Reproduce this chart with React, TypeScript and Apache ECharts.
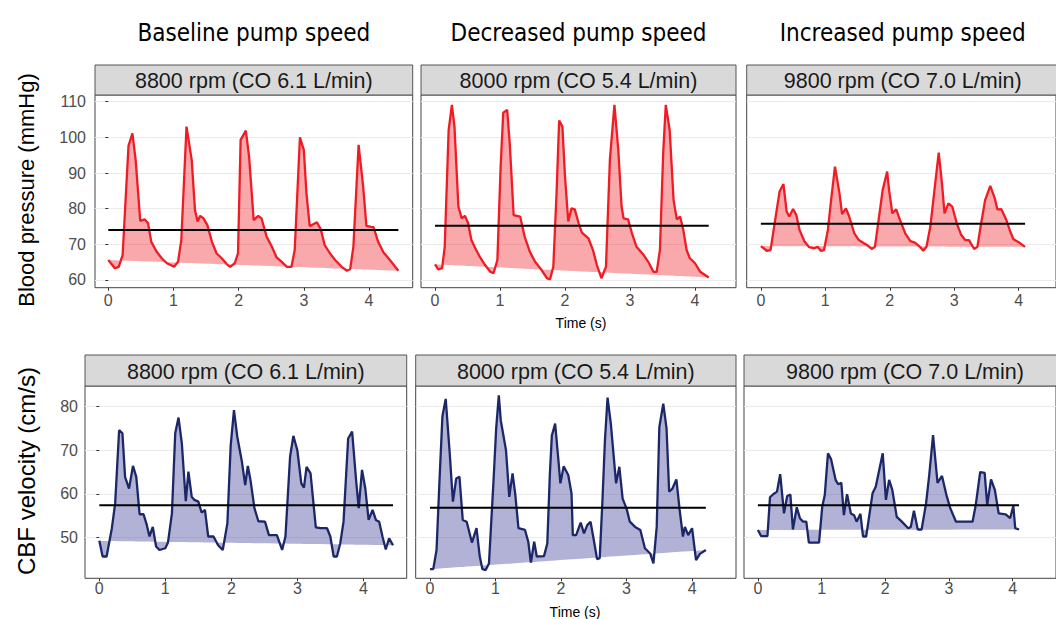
import React, { useEffect, useRef } from "react";
import * as echarts from "echarts";

// ---------- data ----------
const columnTitles = ["Baseline pump speed", "Decreased pump speed", "Increased pump speed"];
const stripLabels = ["8800 rpm (CO 6.1 L/min)", "8000 rpm (CO 5.4 L/min)", "9800 rpm (CO 7.0 L/min)"];
const rowTitles = ["Blood pressure (mmHg)", "CBF velocity (cm/s)"];
const xTicks = [0, 1, 2, 3, 4];
const bpTicks = [60, 70, 80, 90, 100, 110];
const cbfTicks = [50, 60, 70, 80];
const bpMeans = [74.0, 75.2, 75.8];
const cbfMeans = [57.35, 56.8, 57.35];

const bpBaseline: number[][] = [[0,65.6],[0.10,63.3],[0.16,63.7],[0.22,67],[0.31,97.6],[0.37,101.1],[0.42,93.6],[0.49,76.6],[0.56,77.0],[0.61,75.9],[0.66,70.7],[0.74,68],[0.82,66.1],[0.90,64.7],[1.01,63.7],[1.07,65.1],[1.12,71.2],[1.20,103],[1.28,93.6],[1.33,79.6],[1.37,76.4],[1.41,78],[1.46,77.3],[1.52,75.4],[1.59,70.7],[1.66,67.5],[1.74,66.1],[1.82,64.4],[1.87,63.7],[1.94,64.7],[1.99,67.5],[2.03,99.3],[2.11,101.9],[2.16,94.6],[2.23,76.8],[2.30,78],[2.35,77.3],[2.43,72.1],[2.51,69.3],[2.58,66.4],[2.66,65.1],[2.74,63.7],[2.81,63.7],[2.86,68.4],[2.94,100],[3.00,96.4],[3.04,84.3],[3.09,75.1],[3.20,76.2],[3.26,74.2],[3.32,69.8],[3.40,67.5],[3.48,65.6],[3.58,63.7],[3.66,62.6],[3.71,63],[3.76,69.3],[3.84,97.9],[3.91,86.2],[3.96,75.2],[4.03,74.9],[4.07,74.8],[4.14,70.7],[4.22,67.8],[4.32,65.6],[4.45,62.6]];

const bpDecreased: number[][] = [[0,64.4],[0.05,63],[0.11,63.3],[0.15,69.3],[0.21,102],[0.26,109.1],[0.30,103],[0.36,80.6],[0.41,77.3],[0.46,78],[0.51,75.9],[0.56,71.2],[0.62,68.9],[0.69,66.5],[0.77,64.2],[0.85,62.3],[0.90,61.9],[0.96,65.6],[1.01,91.8],[1.05,106.9],[1.11,107.7],[1.15,98.3],[1.21,78.2],[1.31,77.8],[1.38,72.1],[1.46,67.9],[1.54,65.1],[1.64,62.8],[1.72,60.5],[1.77,60.2],[1.82,63.7],[1.87,84.3],[1.91,104.7],[1.96,103],[2.00,89],[2.05,76.4],[2.10,80.1],[2.15,79.8],[2.21,75.9],[2.26,73.3],[2.36,71.7],[2.43,68.4],[2.49,64.2],[2.56,60.5],[2.63,63.7],[2.69,93.6],[2.76,109.1],[2.82,96.4],[2.87,80.6],[2.90,77.3],[2.97,77],[3.03,73.1],[3.10,69.3],[3.21,67],[3.28,65.1],[3.36,62.3],[3.41,62.3],[3.46,68.4],[3.51,95.5],[3.55,109.1],[3.61,102],[3.67,82.4],[3.72,77],[3.77,77.8],[3.82,74],[3.87,68.4],[3.92,66.1],[4.00,64.7],[4.08,62.3],[4.21,60.7]];

const bpIncreased: number[][] = [[0,69.5],[0.09,68.2],[0.15,68.4],[0.19,73.1],[0.29,84.8],[0.35,86.9],[0.40,79.2],[0.44,77.8],[0.50,79.9],[0.55,78.2],[0.60,74],[0.68,70.7],[0.75,69.2],[0.83,68.9],[0.88,69.3],[0.93,68.2],[0.98,68.4],[1.04,74],[1.09,82.4],[1.15,91.8],[1.22,84.3],[1.26,78.5],[1.32,80.1],[1.37,77.8],[1.45,73.1],[1.52,71.2],[1.60,70.3],[1.65,69.8],[1.72,68.7],[1.77,69.3],[1.82,75.9],[1.89,85.2],[1.96,90.4],[1.99,85.2],[2.04,78.7],[2.10,79.8],[2.16,76.8],[2.24,73.1],[2.32,70.9],[2.39,70.5],[2.47,69.3],[2.52,68.2],[2.57,69.3],[2.63,75],[2.70,86.2],[2.76,95.7],[2.81,87.1],[2.85,78.7],[2.91,81.5],[2.97,80.6],[3.04,75.9],[3.11,72.6],[3.17,71.2],[3.23,71.2],[3.31,68.7],[3.36,69.3],[3.41,75],[3.48,82.4],[3.56,86.4],[3.63,82.9],[3.67,79.8],[3.73,79.9],[3.81,76.8],[3.87,73.6],[3.92,71.4],[4.01,70.5],[4.10,69.3]];

const cbfBaseline: number[][] = [[0,49.2],[0.05,45.6],[0.11,45.6],[0.19,52.1],[0.24,57.8],[0.30,74.6],[0.35,73.9],[0.39,63.9],[0.45,61.2],[0.51,66.4],[0.56,63.9],[0.61,55.3],[0.67,55.3],[0.72,52.8],[0.76,50.2],[0.81,52.4],[0.86,47.9],[0.91,47.1],[1.00,47.5],[1.04,48.8],[1.10,55.5],[1.15,73.9],[1.20,77.5],[1.25,71.6],[1.31,58.3],[1.35,65.1],[1.40,59.3],[1.44,58.6],[1.50,58.2],[1.55,55.7],[1.60,56.3],[1.65,50.2],[1.73,50.2],[1.80,48.2],[1.87,47.1],[1.94,53.2],[1.99,71],[2.04,79.2],[2.09,73.1],[2.16,67.4],[2.21,62],[2.25,66.4],[2.29,63.2],[2.35,56.7],[2.41,53.7],[2.51,53.6],[2.57,50.5],[2.69,50.5],[2.77,47.1],[2.82,50.2],[2.89,68.5],[2.94,73.3],[3.00,70],[3.06,62.4],[3.10,61.4],[3.14,66.2],[3.20,64.7],[3.28,52.3],[3.35,52.1],[3.45,52.1],[3.50,50.2],[3.55,45.6],[3.60,45.6],[3.65,48.6],[3.70,53.6],[3.77,72.7],[3.83,74.3],[3.89,63.2],[3.93,56.7],[3.98,65.5],[4.03,61.2],[4.08,54],[4.14,56.3],[4.19,54],[4.24,53.6],[4.29,50.2],[4.34,47.2],[4.39,49.8],[4.45,48.2]];

const cbfDecreased: number[][] = [[0,42.7],[0.05,42.7],[0.10,47.1],[0.15,64.7],[0.19,77.8],[0.24,81.8],[0.30,69.6],[0.35,58.2],[0.40,63.5],[0.45,63.9],[0.50,54],[0.56,53.6],[0.64,48.8],[0.71,52.1],[0.76,45.6],[0.80,42.7],[0.85,42.5],[0.90,44],[0.97,63.1],[1.01,75],[1.05,82.6],[1.08,76.9],[1.16,70],[1.21,59.3],[1.26,64.7],[1.30,60.1],[1.35,52.1],[1.45,51.7],[1.50,49],[1.54,44.2],[1.59,49],[1.63,45.6],[1.74,45.7],[1.79,48.6],[1.83,64.7],[1.86,73.4],[1.91,76.1],[1.96,67.7],[1.99,62.4],[2.04,66.3],[2.11,64.3],[2.16,60.1],[2.18,50.5],[2.23,50.5],[2.30,53.4],[2.35,50.9],[2.40,52.8],[2.45,53.6],[2.50,49.4],[2.55,45],[2.59,45.2],[2.63,57.8],[2.67,72.3],[2.71,82.1],[2.76,76.1],[2.84,62.4],[2.89,66.2],[2.94,58.9],[3.00,56.6],[3.05,53.6],[3.13,52.4],[3.21,51.7],[3.28,47.5],[3.36,46.3],[3.41,44],[3.46,52.4],[3.50,75.3],[3.56,80.7],[3.61,75],[3.65,60.5],[3.70,61.2],[3.76,63.3],[3.81,56.3],[3.86,50.2],[3.89,52.4],[3.94,50.5],[4.00,52.1],[4.06,44.8],[4.12,46.2],[4.21,47.1]];

const cbfIncreased: number[][] = [[0,51.7],[0.05,50.3],[0.15,50.3],[0.19,59.2],[0.24,59.9],[0.30,60.5],[0.35,64.5],[0.41,55.5],[0.46,59.5],[0.51,59.8],[0.55,51.8],[0.61,56.9],[0.66,54.4],[0.71,53.6],[0.76,53.6],[0.80,48.8],[0.88,48.8],[0.96,48.8],[1.01,57],[1.05,59.7],[1.10,69.3],[1.15,67.9],[1.22,63.2],[1.26,62.2],[1.31,62.5],[1.35,55.1],[1.40,59.9],[1.46,55.5],[1.51,55.1],[1.55,53.6],[1.61,55.4],[1.65,50.2],[1.70,50.2],[1.80,60.1],[1.85,61.6],[1.96,69.3],[2.01,58.6],[2.06,63.2],[2.11,60.9],[2.18,54.7],[2.26,53.6],[2.36,52.1],[2.40,52.4],[2.45,56.1],[2.51,51.8],[2.57,51.8],[2.64,57.8],[2.69,64.3],[2.75,73.5],[2.82,62.5],[2.89,64.1],[2.96,59.7],[3.02,56.7],[3.11,53.6],[3.25,53.6],[3.37,53.6],[3.42,57.4],[3.49,65],[3.56,64.8],[3.60,57.4],[3.66,63.3],[3.72,60.9],[3.78,55.5],[3.89,55.3],[3.96,54.4],[4.01,57.2],[4.04,52.1],[4.10,51.8]];

// ---------- layout ----------
const SANS = "'Liberation Sans', Arial, Helvetica, sans-serif";
const TITLE_FONT = "'DejaVu Sans Condensed', 'DejaVu Sans', Tahoma, sans-serif";

type Panel = { left: number; top: number; width: number; height: number; xmin: number; xmax: number; ymin: number; ymax: number };
const panels: Panel[] = [
  { left: 95, top: 95, width: 317.7, height: 192.7, xmin: -0.204, xmax: 4.67, ymin: 57.84, ymax: 111.88 },
  { left: 421, top: 95, width: 315, height: 192.7, xmin: -0.215, xmax: 4.63, ymin: 57.84, ymax: 111.88 },
  { left: 746.7, top: 95, width: 312, height: 192.7, xmin: -0.22, xmax: 4.58, ymin: 57.84, ymax: 111.88 },
  { left: 85, top: 386, width: 321.7, height: 192.3, xmin: -0.217, xmax: 4.657, ymin: 40.6, ymax: 84.75 },
  { left: 415.7, top: 386, width: 320.3, height: 192.3, xmin: -0.218, xmax: 4.67, ymin: 40.6, ymax: 84.75 },
  { left: 744, top: 386, width: 322, height: 192.3, xmin: -0.218, xmax: 4.68, ymin: 40.6, ymax: 84.75 },
];
const stripTops = [65, 65, 65, 355, 355, 355];

function panelSeries(idx: number, pts: number[][], mean: number, lineColor: string, areaColor: string, areaOpacity: number) {
  const n = pts.length;
  const t0 = pts[0][0], t1 = pts[n - 1][0];
  const v0 = pts[0][1], v1 = pts[n - 1][1];
  const base = pts.map((p) => v0 + ((v1 - v0) * (p[0] - t0)) / (t1 - t0));
  return [
    {
      type: "custom", xAxisIndex: idx, yAxisIndex: idx, data: pts, silent: true, clip: true, z: 1,
      encode: { x: 0, y: 1 },
      renderItem: (params: any, api: any) => {
        if (params.dataIndex !== 0) return null;
        const top = pts.map((p) => api.coord([p[0], p[1]]));
        const bot = pts.map((p, k) => api.coord([p[0], base[k]])).reverse();
        return {
          type: "polygon",
          shape: { points: top.concat(bot) },
          style: { fill: areaColor, opacity: areaOpacity, stroke: "none" },
        };
      },
    },
    {
      type: "line", xAxisIndex: idx, yAxisIndex: idx, data: pts, symbol: "none", silent: true,
      lineStyle: { color: lineColor, width: 2.3 }, z: 3,
    },
    {
      type: "line", xAxisIndex: idx, yAxisIndex: idx, data: [[t0, mean], [t1, mean]], symbol: "none", silent: true,
      lineStyle: { color: "#000000", width: 2 }, z: 4,
    },
  ];
}

export default function App() {
  const ref = useRef<HTMLDivElement>(null);
  useEffect(() => {
    if (!ref.current) return;
    const chart = echarts.init(ref.current, undefined, { renderer: "svg" });
    const traces = [bpBaseline, bpDecreased, bpIncreased, cbfBaseline, cbfDecreased, cbfIncreased];
    const means = [...bpMeans, ...cbfMeans];

    const grids = panels.map((p) => ({
      left: p.left, top: p.top, width: p.width, height: p.height,
      show: true, borderColor: "#444444", borderWidth: 1, backgroundColor: "#ffffff", containLabel: false,
    }));
    const xAxes = panels.map((p, i) => ({
      type: "value", gridIndex: i, min: p.xmin, max: p.xmax,
      axisLine: { show: false },
      splitLine: { show: false },
      axisTick: { show: true, length: 3, lineStyle: { color: "#333333" }, customValues: xTicks },
      axisLabel: { show: true, customValues: xTicks, color: "#4d4d4d", fontSize: 16, fontFamily: SANS, margin: i < 3 ? 5 : 2 },
    }));
    const yAxes = panels.map((p, i) => {
      const ticks = i < 3 ? bpTicks : cbfTicks;
      const first = i % 3 === 0;
      return {
        type: "value", gridIndex: i, min: p.ymin, max: p.ymax,
        axisLine: { show: false },
        splitLine: { show: true, lineStyle: { color: "#ebebeb", width: 1 } },
        axisTick: { show: first, length: 3, lineStyle: { color: "#333333" }, customValues: ticks },
        axisLabel: {
          show: first, customValues: ticks, color: "#4d4d4d", fontSize: 16, fontFamily: SANS, margin: i < 3 ? 9 : 7,
          formatter: (v: number) => (ticks.indexOf(Math.round(v)) >= 0 && Math.abs(v - Math.round(v)) < 1e-6 ? String(Math.round(v)) : ""),
        },
      };
    });

    const series: any[] = [];
    traces.forEach((pts, i) => {
      const isBp = i < 3;
      series.push(...panelSeries(i, pts, means[i], isBp ? "#ee1c25" : "#1c2768", isBp ? "#ee1c25" : "#3b3f98", isBp ? 0.38 : 0.4));
    });

    const graphics: any[] = [];
    columnTitles.forEach((t, c) => {
      const p = panels[c];
      graphics.push({
        type: "text", x: p.left + p.width / 2, y: 33,
        style: { text: t, fontFamily: TITLE_FONT, fontSize: 24, fill: "#000000", align: "center", verticalAlign: "middle" },
      });
    });
    panels.forEach((p, i) => {
      const st = stripTops[i];
      graphics.push({
        type: "rect", shape: { x: p.left, y: st, width: p.width, height: p.top - st },
        style: { fill: "#d9d9d9", stroke: "#555555", lineWidth: 1 }, z: 10,
      });
      graphics.push({
        type: "text", x: p.left + p.width / 2, y: st + (p.top - st) / 2 + 1,
        style: { text: stripLabels[i % 3], fontFamily: SANS, fontSize: 21.5, fill: "#1a1a1a", align: "center", verticalAlign: "middle" },
        z: 11,
      });
    });
    graphics.push({
      type: "text", x: 26, y: 190, rotation: Math.PI / 2,
      style: { text: rowTitles[0], fontFamily: SANS, fontSize: 22, fill: "#000000", align: "center", verticalAlign: "middle" },
    });
    graphics.push({
      type: "text", x: 26, y: 471, rotation: Math.PI / 2,
      style: { text: rowTitles[1], fontFamily: SANS, fontSize: 24, fill: "#000000", align: "center", verticalAlign: "middle" },
    });
    graphics.push({
      type: "text", x: 581, y: 323,
      style: { text: "Time (s)", fontFamily: SANS, fontSize: 14, fill: "#000000", align: "center", verticalAlign: "middle" },
    });
    graphics.push({
      type: "text", x: 575, y: 612,
      style: { text: "Time (s)", fontFamily: SANS, fontSize: 14, fill: "#000000", align: "center", verticalAlign: "middle" },
    });

    chart.setOption({
      animation: false,
      backgroundColor: "#ffffff",
      grid: grids,
      xAxis: xAxes,
      yAxis: yAxes,
      series,
      graphic: graphics,
    });
    return () => chart.dispose();
  }, []);
  return <div ref={ref} style={{ position: "absolute", left: 0, top: 0, width: 1056, height: 619 }} />;
}
